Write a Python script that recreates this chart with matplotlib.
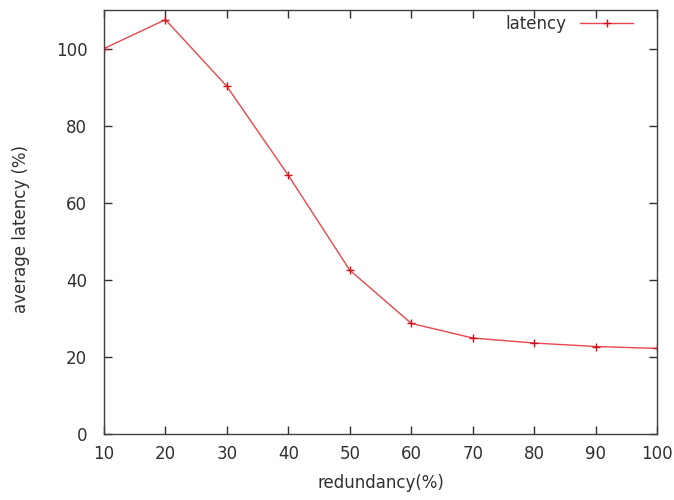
import matplotlib
matplotlib.use("Agg")
import matplotlib.pyplot as plt

redundancy = [10, 20, 30, 40, 50, 60, 70, 80, 90, 100]
latency = [100.0, 107.5, 90.2, 67.1, 42.5, 28.7, 24.9, 23.6, 22.7, 22.2]
xticks = [10, 20, 30, 40, 50, 60, 70, 80, 90, 100]
yticks = [0, 20, 40, 60, 80, 100]

plt.rcParams['font.family'] = ['DejaVu Sans']
fig = plt.figure(figsize=(6.74, 5.0), dpi=100)
ax = fig.add_axes([104/674, 66/500, 553/674, 424/500])

ax.plot(redundancy, latency, color='#e8474f', lw=1.0, marker='+', ms=6,
        mec='#d0101a', mew=1.0, label='latency')

ax.set_xlim(10, 100)
ax.set_ylim(0, 110)
ax.set_xticks(xticks)
ax.set_yticks(yticks)
ax.tick_params(direction='in', length=6, width=1, top=True, right=True,
               labelsize=12, colors='#303030')
ax.tick_params(axis='y', pad=12)
ax.tick_params(axis='x', pad=8)
for s in ax.spines.values():
    s.set_color('#404040')
    s.set_linewidth(1.0)

ax.set_xlabel('redundancy(%)', fontsize=12, color='#303030', labelpad=8)
ax.set_ylabel('average latency (%)', fontsize=12, color='#303030')
ax.yaxis.set_label_coords(-0.134, 0.483)

leg = ax.legend(loc='upper right', frameon=False, markerfirst=False,
                fontsize=12, handlelength=3.2, handletextpad=0.8,
                bbox_to_anchor=(0.975, 1.012), borderaxespad=0.2)
for t in leg.get_texts():
    t.set_color('#303030')

fig.savefig('out.png', dpi=100)
